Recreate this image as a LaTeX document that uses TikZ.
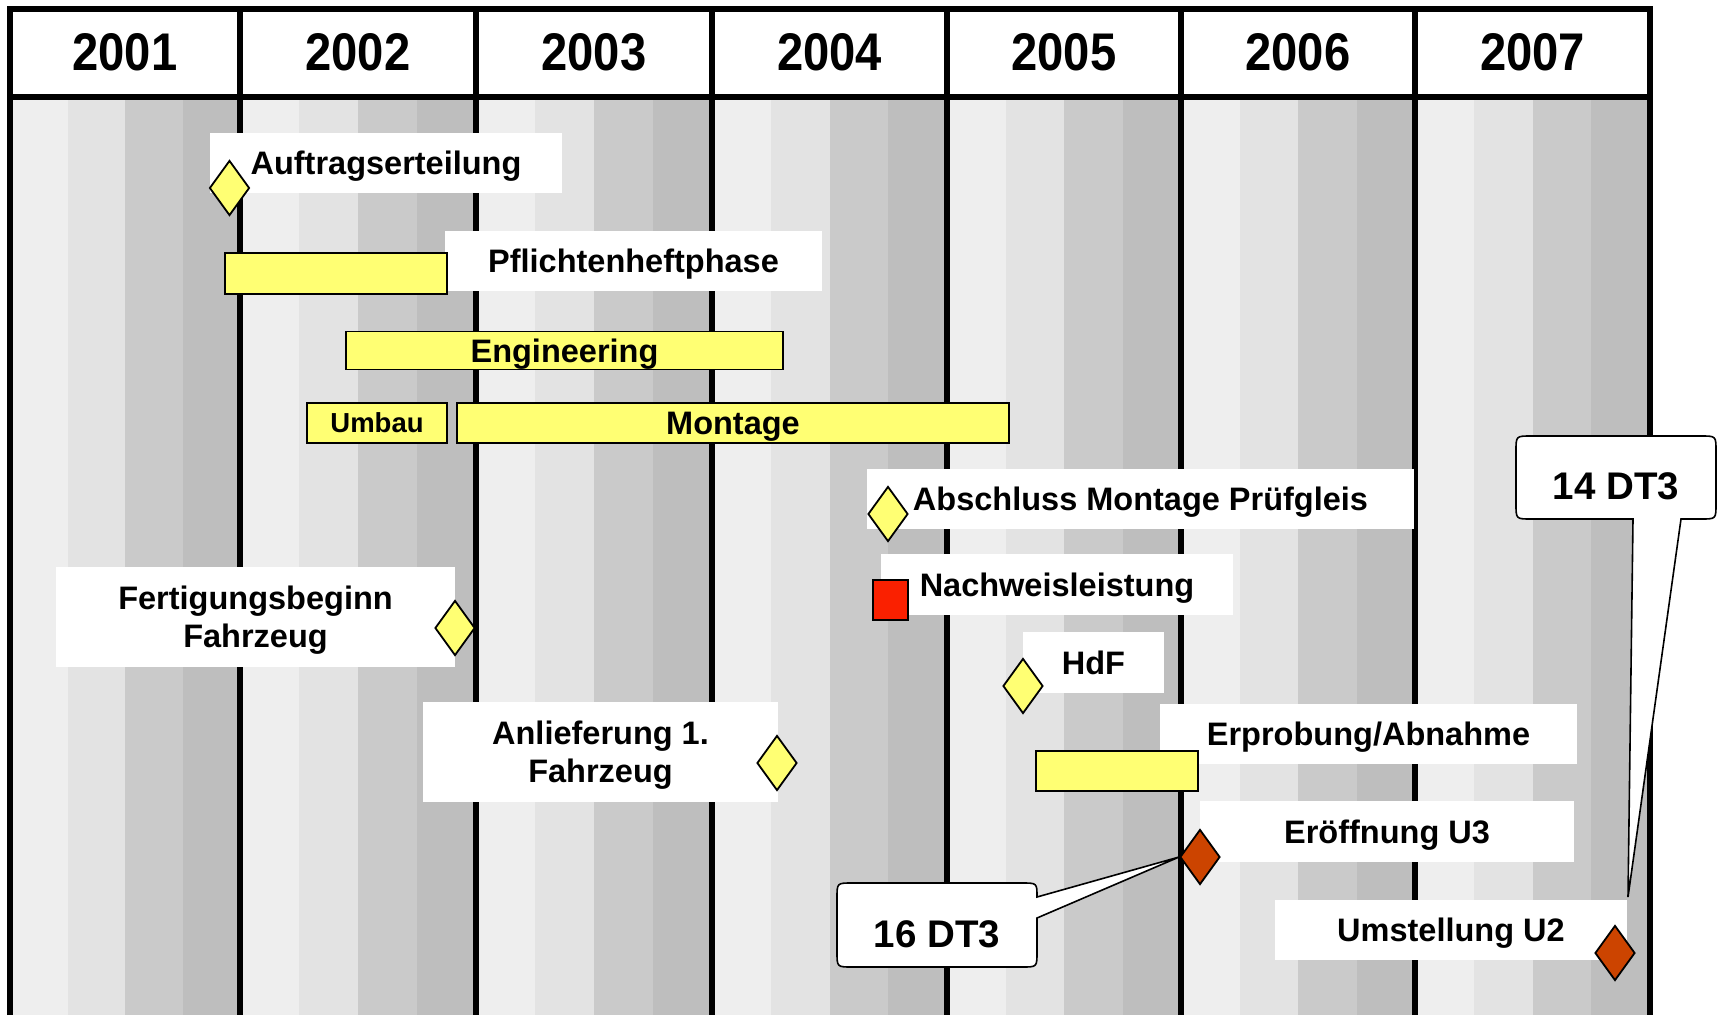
\documentclass[tikz,border=0pt]{standalone}
\usepackage{fontspec}
\setmainfont{Liberation Sans}
\newfontfamily\yearfont{Liberation Sans}[FakeStretch=0.89]
\usepackage{tikz}
\usetikzlibrary{shapes.geometric}
\definecolor{stripeA}{HTML}{EEEEEE}
\definecolor{stripeB}{HTML}{E3E3E3}
\definecolor{stripeC}{HTML}{CACACA}
\definecolor{stripeD}{HTML}{BEBEBE}
\definecolor{barfill}{HTML}{FFFF73}
\definecolor{keyorange}{HTML}{CC4400}
\definecolor{proofred}{HTML}{FA2000}
\newcommand{\lblfont}{\fontsize{32.5}{38}\selectfont\bfseries}
\tikzset{
  gridline/.style={line width=6pt},
  yearlbl/.style={inner sep=0, font={\yearfont\fontsize{53}{60}\selectfont\bfseries}},
  lbl/.style={fill=white, inner sep=0, font=\lblfont,
    text height=29.8pt, text depth=6.5pt},
  lbltwo/.style={fill=white, inner sep=0, font=\lblfont, align=center,
    text height=67.7pt, text depth=6.5pt},
  bar/.style={draw=black, line width=1.8pt, fill=barfill, inner sep=0,
    font=\lblfont, text height=29.8pt, text depth=6.5pt},
  milestone/.style={diamond, draw=black, line width=1.8pt, fill=barfill,
    inner sep=0, minimum width=40pt, minimum height=55pt},
  keydate/.style={milestone, fill=keyorange},
  proof/.style={draw=black, line width=1.8pt, fill=proofred, inner sep=0,
    minimum width=35pt, minimum height=40pt},
  callout/.style={draw=black, fill=white, line width=1.6pt},
  calltxt/.style={inner sep=0, font={\fontsize{38.5}{44}\selectfont\bfseries}}
}

\begin{document}
\begin{tikzpicture}[x=1pt, y=-1pt, line join=miter]
  \useasboundingbox (0,0) rectangle (1722,1015);

  % shaded quarters of every year
  \foreach \xa/\xb in {10/240,240/476,476/712,712/947,947/1181,1181/1415,1415/1650}{
    \foreach \k/\c in {0/stripeA,1/stripeB,2/stripeC,3/stripeD}
      \fill[\c] ({\xa+\k*(\xb-\xa)/4},97) rectangle ({\xa+(\k+1)*(\xb-\xa)/4},1015);
  }

  % header and year lines
  \fill[white] (10,9) rectangle (1650,97);
  \draw[gridline] (10,1015) -- (10,9) -- (1650,9) -- (1650,1015);
  \draw[gridline] (10,97) -- (1650,97);
  \foreach \x in {240,476,712,947,1181,1415}
    \draw[gridline] (\x,9) -- (\x,1015);
  \foreach \xa/\xb/\yr in {10/240/2001,240/476/2002,476/712/2003,712/947/2004,
                           947/1181/2005,1181/1415/2006,1415/1650/2007}
    \node[yearlbl] (y\yr) at ({(\xa+\xb)/2},52.5) {\yr};

  % labels
  \node[lbl, minimum width=352pt, minimum height=60pt] (lAuf) at (386,163) {Auftragserteilung};
  \node[lbl, minimum width=377pt, minimum height=60pt] (lPfl) at (633.5,261) {Pflichtenheftphase};
  \node[lbl, minimum width=547pt, minimum height=60pt] (lAbs) at (1140.5,499) {Abschluss Montage Prüfgleis};
  \node[lbl, minimum width=352pt, minimum height=61pt] (lNach) at (1057,584.5) {Nachweisleistung};
  \node[lbl, minimum width=141pt, minimum height=61pt] (lHdF) at (1093.5,662.5) {HdF};
  \node[lbl, minimum width=417pt, minimum height=60pt] (lErp) at (1368.5,734) {Erprobung/Abnahme};
  \node[lbl, minimum width=374pt, minimum height=61pt] (lU3) at (1387,831.5) {Eröffnung U3};
  \node[lbl, minimum width=352pt, minimum height=60pt] (lU2) at (1451,930) {Umstellung U2};
  \node[lbltwo, minimum width=399pt, minimum height=100pt] (lFert) at (255.5,617) {Fertigungsbeginn\\Fahrzeug};
  \node[lbltwo, minimum width=355pt, minimum height=100pt] (lAnl) at (600.5,752) {Anlieferung 1.\\Fahrzeug};

  % phases
  \node[bar, minimum width=222pt, minimum height=41pt] (bPfl) at (336,273.5) {};
  \node[bar, minimum width=437pt, minimum height=38pt] (bEng) at (564.5,350.5) {Engineering};
  \node[bar, minimum width=140pt, minimum height=40pt,
        font={\fontsize{27.5}{32}\selectfont\bfseries},
        text height=25.2pt, text depth=5.5pt] (bUmb) at (377,423) {Umbau};
  \node[bar, minimum width=552pt, minimum height=40pt] (bMon) at (733,423) {Montage};
  \node[bar, minimum width=162pt, minimum height=40pt] (bErp) at (1117,771) {};

  % milestones
  \node[milestone] (mAuf) at (229.5,188) {};
  \node[milestone] (mFert) at (455,628) {};
  \node[milestone] (mAnl) at (777,763) {};
  \node[milestone] (mAbs) at (888,514) {};
  \node[proof] (sNach) at (890.5,600) {};
  \node[milestone] (mHdF) at (1023,686) {};
  \node[keydate] (mU3) at (1200,857) {};
  \node[keydate] (mU2) at (1615,953) {};

  % callouts
  \coordinate (tipA) at (mU3.west);
  \draw[callout] (852,883) -- (1022,883) .. controls (1037,883) .. (1037,897)
    -- (tipA) -- (1037,918) -- (1037,952) .. controls (1037,967) .. (1022,967)
    -- (852,967) .. controls (837,967) .. (837,952) -- (837,898)
    .. controls (837,883) .. (852,883) -- cycle;
  \node[calltxt] (cA) at (937,934) {16 DT3};

  \coordinate (tipB) at (1628,897);
  \draw[callout] (1531,436) -- (1701,436) .. controls (1716,436) .. (1716,451)
    -- (1716,504) .. controls (1716,519) .. (1701,519) -- (1681,519)
    -- (tipB) -- (1633,519) -- (1531,519) .. controls (1516,519) .. (1516,504)
    -- (1516,451) .. controls (1516,436) .. (1531,436) -- cycle;
  \node[calltxt] (cB) at (1616,486) {14 DT3};
\end{tikzpicture}
\end{document}
